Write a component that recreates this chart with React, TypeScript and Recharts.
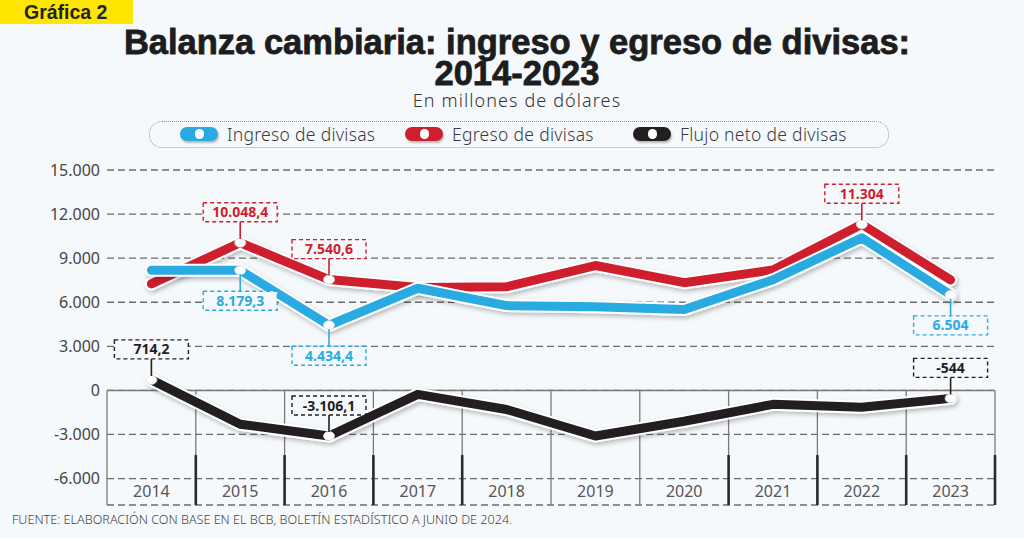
import React from "react";
import { LineChart, Line, XAxis, YAxis, CartesianGrid, ReferenceLine, LabelList } from "recharts";

const YEARS = [2014, 2015, 2016, 2017, 2018, 2019, 2020, 2021, 2022, 2023];
const INGRESO = [8179.3, 8179.3, 4434.4, 6950, 5770, 5700, 5500, 7530, 10380, 6504];
const EGRESO = [7250, 10048.4, 7540.6, 7000, 7050, 8500, 7330, 8200, 11304, 7520];
const FLUJO = [714.2, -2300, -3106.1, -270, -1300, -3100, -2100, -950, -1150, -544];
const Y_TICKS = [15000, 12000, 9000, 6000, 3000, 0, -3000, -6000];

// which points get a value box
const INGRESO_LABELS = [1, 2, 9];
const EGRESO_LABELS = [1, 2, 8];
const FLUJO_LABELS = [0, 2, 9];

const BLUE = "#29abe2";
const RED = "#cf1f2e";
const BLACK = "#231f20";
const BG = "#f5f9fc";
const FONT = "'Noto Sans', 'Open Sans', sans-serif";
const TITLE_FONT = "'Liberation Sans', Arial, sans-serif";

const Y_MIN = -7800;
const Y_MAX = 15000;
const BOUNDS = [-0.5, 0.5, 1.5, 2.5, 3.5, 4.5, 5.5, 6.5, 7.5, 8.5, 9.5];
const THICK_BOUNDS = [0.5, 1.5, 2.5, 3.5, 6.5, 7.5, 8.5, 9.5];

const data = YEARS.map((year, i) => ({
  i,
  year,
  ingreso: INGRESO[i],
  egreso: EGRESO[i],
  flujo: FLUJO[i],
}));

function fmtEs(v: number): string {
  const neg = v < 0;
  const a = Math.abs(v);
  const int = Math.floor(a);
  const dec = Math.round((a - int) * 10);
  const s = String(int).replace(/\B(?=(\d{3})+(?!\d))/g, ".");
  return (neg ? "-" : "") + s + (dec ? "," + dec : "");
}

const makeCallout = (idx: number[], color: string, below: boolean) => (props: any) => {
  const { x, y, value, index } = props;
  if (!idx.includes(index)) return null;
  const w = 74;
  const h = 19;
  const gap = 21;
  const top = below ? y + gap : y - gap - h;
  return (
    <g>
      <line x1={x} y1={below ? y + 4 : y - 4} x2={x} y2={below ? top : top + h} stroke={color} strokeWidth={1.6} />
      <rect x={x - w / 2} y={top} width={w} height={h} fill={BG} stroke={color} strokeWidth={1.4} strokeDasharray="4 3" />
      <text x={x} y={top + h / 2 + 5} textAnchor="middle" fill={color} fontSize={14} fontWeight={700} fontFamily={FONT}>
        {fmtEs(value)}
      </text>
    </g>
  );
};

const makeDot = (idx: number[]) => (props: any) => {
  const { cx, cy, index } = props;
  if (!idx.includes(index)) return <g key={`d${index}`} />;
  return <ellipse key={`d${index}`} cx={cx} cy={cy} rx={5.5} ry={4.5} fill="#fff" stroke="#d8d8d8" strokeWidth={0.8} />;
};

const YearTick = (props: any) => {
  const { x, y, payload } = props;
  return (
    <text x={x} y={y - 8} textAnchor="middle" fill="#555" fontSize={16} fontFamily={FONT}>
      {YEARS[payload.value]}
    </text>
  );
};

function LegendIcon({ color }: { color: string }) {
  return (
    <span
      style={{
        position: "absolute",
        top: 3,
        left: 0,
        width: 38,
        height: 14,
        borderRadius: 7,
        background: color,
        boxShadow: "1px 2px 2px rgba(0,0,0,0.25)",
      }}
    >
      <span
        style={{
          position: "absolute",
          left: 15,
          top: 2,
          width: 9,
          height: 10,
          borderRadius: 5,
          background: "#fff",
        }}
      />
    </span>
  );
}

const LEGEND = [
  { label: "Ingreso de divisas", color: BLUE, left: 180 },
  { label: "Egreso de divisas", color: RED, left: 405 },
  { label: "Flujo neto de divisas", color: BLACK, left: 633 },
];

export default function App() {
  return (
    <div style={{ position: "absolute", left: 0, top: 0, width: 1024, height: 538, background: BG, overflow: "hidden" }}>
      <div
        style={{
          position: "absolute",
          left: 0,
          top: 0,
          width: 133,
          height: 24,
          background: "#ffe600",
          fontFamily: TITLE_FONT,
          fontWeight: 700,
          fontSize: 19.5,
          lineHeight: "24px",
          color: "#222",
          paddingLeft: 24,
          boxSizing: "border-box",
          whiteSpace: "nowrap",
        }}
      >
        Gráfica 2
      </div>

      <div
        style={{
          position: "absolute",
          left: 0,
          width: 1034,
          top: 27,
          textAlign: "center",
          fontFamily: TITLE_FONT,
          fontWeight: 700,
          fontSize: 34.5,
          lineHeight: "31px",
          color: "#1d1d1d",
          WebkitTextStroke: "0.8px #1d1d1d",
        }}
      >
        <div>Balanza cambiaria: ingreso y egreso de divisas:</div>
        <div>2014-2023</div>
      </div>
      <div
        style={{
          position: "absolute",
          left: 0,
          width: 1034,
          top: 88,
          textAlign: "center",
          fontFamily: FONT,
          fontWeight: 300,
          fontSize: 18,
          letterSpacing: 1.1,
          color: "#333",
        }}
      >
        En millones de dólares
      </div>

      <div
        style={{
          position: "absolute",
          left: 149,
          top: 121,
          width: 740,
          height: 27,
          border: "1.5px dotted #999",
          borderRadius: 13,
          boxSizing: "border-box",
        }}
      />
      {LEGEND.map((it) => (
        <div key={it.label} style={{ position: "absolute", left: it.left, top: 124, height: 20, width: 240 }}>
          <LegendIcon color={it.color} />
          <span
            style={{
              position: "absolute",
              left: 47,
              top: -2,
              fontFamily: FONT,
              fontWeight: 300,
              fontSize: 17.5,
              letterSpacing: 0.3,
              color: "#3a3a3a",
              whiteSpace: "nowrap",
            }}
          >
            {it.label}
          </span>
        </div>
      ))}

      <div style={{ position: "absolute", left: 0, top: 0 }}>
        <LineChart width={1024} height={538} data={data} margin={{ top: 170, right: 29, left: 7, bottom: 0 }}>
          <defs>
            <filter id="lineShadow" x="-10%" y="-50%" width="120%" height="200%">
              <feDropShadow dx={1.5} dy={2.5} stdDeviation={2} floodColor="#000" floodOpacity={0.25} />
            </filter>
          </defs>
          <CartesianGrid vertical={false} stroke="#6b6b6b" strokeDasharray="7 4" strokeWidth={1.3} />
          <XAxis
            type="number"
            dataKey="i"
            domain={[-0.5, 9.5]}
            ticks={[0, 1, 2, 3, 4, 5, 6, 7, 8, 9]}
            interval={0}
            height={33}
            axisLine={false}
            tickLine={false}
            tickSize={0}
            tickMargin={0}
            tick={<YearTick />}
          />
          <YAxis
            type="number"
            domain={[Y_MIN, Y_MAX]}
            ticks={Y_TICKS}
            interval={0}
            width={100}
            axisLine={false}
            tickLine={false}
            tickSize={0}
            tickMargin={7}
            tickFormatter={fmtEs}
            tick={{ fill: "#444", fontSize: 16, fontFamily: FONT }}
          />
          {BOUNDS.map((b) => (
            <ReferenceLine
              key={`v${b}`}
              segment={[
                { x: b, y: 0 },
                { x: b, y: Y_MIN },
              ]}
              stroke="#7a7a7a"
              strokeWidth={1.3}
              ifOverflow="visible"
            />
          ))}
          {THICK_BOUNDS.map((b) => (
            <ReferenceLine
              key={`t${b}`}
              segment={[
                { x: b, y: -4400 },
                { x: b, y: Y_MIN },
              ]}
              stroke="#2a2a2a"
              strokeWidth={2.6}
              ifOverflow="visible"
            />
          ))}
          <ReferenceLine y={0} stroke="#7a7a7a" strokeWidth={1.5} />

          <Line dataKey="egreso" stroke="#fff" strokeWidth={13} strokeLinecap="round" strokeLinejoin="round" dot={false} activeDot={false} filter="url(#lineShadow)" isAnimationActive={false} />
          <Line dataKey="egreso" stroke={RED} strokeWidth={9} strokeLinecap="round" strokeLinejoin="round" dot={makeDot(EGRESO_LABELS)} activeDot={false} isAnimationActive={false}>
            <LabelList dataKey="egreso" content={makeCallout(EGRESO_LABELS, RED, false)} />
          </Line>

          <Line dataKey="ingreso" stroke="#fff" strokeWidth={13} strokeLinecap="round" strokeLinejoin="round" dot={false} activeDot={false} filter="url(#lineShadow)" isAnimationActive={false} />
          <Line dataKey="ingreso" stroke={BLUE} strokeWidth={9} strokeLinecap="round" strokeLinejoin="round" dot={makeDot(INGRESO_LABELS)} activeDot={false} isAnimationActive={false}>
            <LabelList dataKey="ingreso" content={makeCallout(INGRESO_LABELS, BLUE, true)} />
          </Line>

          <Line dataKey="flujo" stroke="#fff" strokeWidth={13} strokeLinecap="round" strokeLinejoin="round" dot={false} activeDot={false} filter="url(#lineShadow)" isAnimationActive={false} />
          <Line dataKey="flujo" stroke={BLACK} strokeWidth={9} strokeLinecap="round" strokeLinejoin="round" dot={makeDot(FLUJO_LABELS)} activeDot={false} isAnimationActive={false}>
            <LabelList dataKey="flujo" content={makeCallout(FLUJO_LABELS, BLACK, false)} />
          </Line>
        </LineChart>
      </div>

      <div
        style={{
          position: "absolute",
          left: 12,
          top: 511,
          fontFamily: FONT,
          fontWeight: 300,
          fontSize: 12.6,
          color: "#444",
          whiteSpace: "nowrap",
        }}
      >
        FUENTE: ELABORACIÓN CON BASE EN EL BCB, BOLETÍN ESTADÍSTICO A JUNIO DE 2024.
      </div>
    </div>
  );
}
